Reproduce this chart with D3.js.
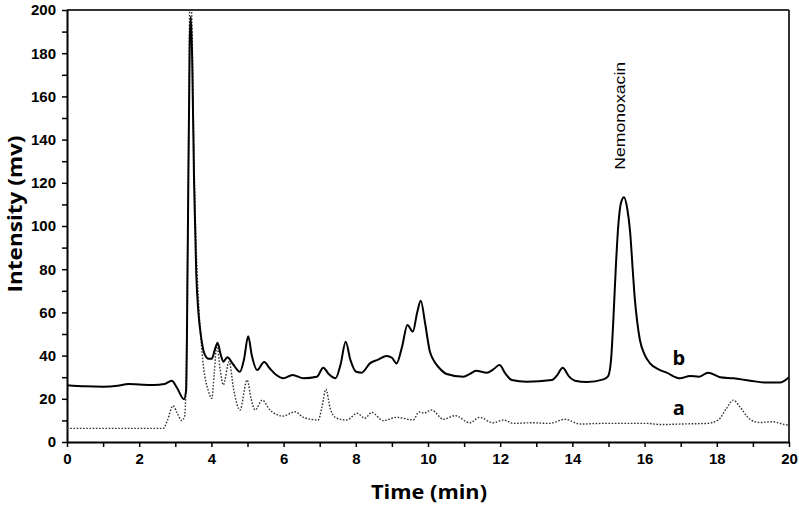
<!DOCTYPE html>
<html>
<head>
<meta charset="utf-8">
<script src="https://cdn.jsdelivr.net/npm/d3@7"></script>
<style>
  html, body { margin: 0; padding: 0; background: #fff; }
  svg { display: block; }
</style>
</head>
<body>
<svg id="chart" width="799" height="507"></svg>
<script>
// ---- Data ----
const bTime = [0,0.5,1.0,1.4,1.7,2.0,2.4,2.7,2.9,3.05,3.24,3.30,3.35,3.40,3.43,3.47,3.52,3.58,3.64,3.72,3.82,3.92,4.01,4.1,4.17,4.25,4.33,4.44,4.6,4.79,4.9,5.02,5.12,5.27,5.46,5.62,5.8,5.99,6.25,6.55,6.92,7.1,7.25,7.44,7.58,7.72,7.85,8.01,8.16,8.39,8.6,8.86,9.0,9.13,9.28,9.43,9.58,9.7,9.8,9.92,10.05,10.15,10.3,10.52,10.98,11.16,11.33,11.63,11.8,11.98,12.15,12.32,12.73,13.43,13.58,13.73,13.9,14.07,14.4,14.86,14.99,15.07,15.13,15.2,15.27,15.35,15.43,15.52,15.6,15.67,15.73,15.8,15.87,16.0,16.15,16.4,16.61,16.98,17.26,17.5,17.76,18.09,18.46,18.92,19.38,19.75,20.0];
const bIntensity = [26.3,25.8,25.6,26.0,26.8,26.6,26.4,26.8,28.4,25,19.8,24,100,185,197,175,120,78,60,48,40.3,38.5,38.5,43,46,41,37.2,39.2,36,32.5,38,49,40,33.3,37,34,31,29.5,31,29.5,30.2,34.4,31.5,29.5,36,46.4,38,32.5,32.1,36.4,38,39.8,39,36.4,44,54.2,51.1,60,65.4,55,42,38,34.5,31.5,30.2,31.5,33,32.1,33.5,35.6,31.5,28.7,27.9,28.7,31,34.4,30.5,28.4,27.8,29,30.5,38,55,80,100,111,113.3,108,97,80,66,55,47.2,40.5,36.4,33.5,32.1,29.5,30.6,30.2,32.1,30,29.5,28.4,27.5,27.5,30];

const aTime = [0,1,2,2.67,2.78,2.94,3.05,3.18,3.26,3.31,3.36,3.41,3.46,3.51,3.57,3.64,3.7,3.78,3.91,4.01,4.08,4.15,4.24,4.33,4.49,4.62,4.79,4.99,5.1,5.21,5.41,5.62,5.99,6.32,6.55,6.96,7.06,7.17,7.3,7.47,7.75,8.04,8.25,8.44,8.76,9.13,9.59,9.75,9.89,10.1,10.43,10.75,11.16,11.42,11.81,12.09,12.36,12.9,13.36,13.8,14.21,14.77,15.5,16.07,16.44,17.2,17.72,18.04,18.27,18.46,18.64,18.92,19.2,19.52,19.94,20];
const aIntensity = [6.3,6.3,6.3,6.3,10,16.8,13.5,9.9,12,40,120,215,195,140,95,66,50,35,24,20.2,32,45,34,26.4,37.2,24,14.8,28.7,20,14.8,19.4,14.8,12,14,11.4,10.2,16,24.4,15,11,10.2,13.3,11,13.7,9.9,11.4,10.2,13.9,13.4,14.8,10.5,12.2,8.9,11.4,8.9,10.2,8.6,8.9,8.6,10.5,8.3,8.6,8.6,8.6,8.1,8.4,8.6,10.2,15.6,19.4,16.3,10.5,9,9.4,7.9,7.8];

const xTicks = [0,2,4,6,8,10,12,14,16,18,20];
const yTicks = [0,20,40,60,80,100,120,140,160,180,200];
const xLabel = "Time (min)";
const yLabel = "Intensity (mv)";
const peakLabel = "Nemonoxacin";
const seriesLabels = ["b", "a"];

// ---- Layout ----
const W = 799, H = 507;
const m = {left: 67, top: 10, right: 10, bottom: 65};
const iw = W - m.left - m.right, ih = H - m.top - m.bottom;

const svg = d3.select("#chart");
const g = svg.append("g").attr("transform", `translate(${m.left},${m.top})`);

const x = d3.scaleLinear().domain([0, 20]).range([0, iw]);
const y = d3.scaleLinear().domain([0, 200]).range([ih, 0]);

svg.append("defs").append("clipPath").attr("id", "clip")
  .append("rect").attr("x", 0).attr("y", 0).attr("width", iw).attr("height", ih);

const tickFont = "'Liberation Sans', Arial, sans-serif";
const titleFont = "'Open Sans', 'Liberation Sans', sans-serif";

// minor ticks
const xMinor = d3.axisBottom(x).tickValues(d3.range(1, 20, 2)).tickSize(5).tickFormat("");
const yMinor = d3.axisLeft(y).tickValues(d3.range(10, 200, 20)).tickSize(5).tickFormat("");
g.append("g").attr("transform", `translate(0,${ih})`).call(xMinor)
  .call(s => s.select(".domain").remove())
  .call(s => s.selectAll("line").attr("stroke", "#000").attr("stroke-width", 1.5));
g.append("g").call(yMinor)
  .call(s => s.select(".domain").remove())
  .call(s => s.selectAll("line").attr("stroke", "#000").attr("stroke-width", 1.5));

// frame (top & right)
g.append("line").attr("x1", 0).attr("x2", iw).attr("y1", 0).attr("y2", 0)
  .attr("stroke", "#333").attr("stroke-width", 2);
g.append("line").attr("x1", iw).attr("x2", iw).attr("y1", 0).attr("y2", ih)
  .attr("stroke", "#333").attr("stroke-width", 2);

// major axes
const xAxis = d3.axisBottom(x).tickValues(xTicks).tickSize(5).tickSizeOuter(0).tickPadding(6);
const yAxis = d3.axisLeft(y).tickValues(yTicks).tickSize(5).tickSizeOuter(0).tickPadding(6);
g.append("g").attr("transform", `translate(0,${ih})`).call(xAxis)
  .call(s => s.select(".domain").attr("stroke", "#000").attr("stroke-width", 2))
  .call(s => s.selectAll("line").attr("stroke", "#000").attr("stroke-width", 1.5))
  .call(s => s.selectAll("text").attr("fill", "#000").attr("font-family", tickFont)
    .attr("font-size", 15).attr("font-weight", "bold"));
g.append("g").call(yAxis)
  .call(s => s.select(".domain").attr("stroke", "#000").attr("stroke-width", 2))
  .call(s => s.selectAll("line").attr("stroke", "#000").attr("stroke-width", 1.5))
  .call(s => s.selectAll("text").attr("fill", "#000").attr("font-family", tickFont)
    .attr("font-size", 15).attr("font-weight", "bold"));

// lines
const line = d3.line().x(d => x(d[0])).y(d => y(d[1])).curve(d3.curveMonotoneX);
const aData = aTime.map((t, i) => [t, aIntensity[i]]);
const bData = bTime.map((t, i) => [t, bIntensity[i]]);

const plot = g.append("g").attr("clip-path", "url(#clip)");
plot.append("path").datum(aData).attr("d", line)
  .attr("fill", "none").attr("stroke", "#333").attr("stroke-width", 1.4)
  .attr("stroke-dasharray", "1.6,1.6");
plot.append("path").datum(bData).attr("d", line)
  .attr("fill", "none").attr("stroke", "#000").attr("stroke-width", 2)
  .attr("stroke-linejoin", "round");

// series labels
g.append("text").attr("x", x(16.95)).attr("y", y(35.5))
  .attr("text-anchor", "middle").attr("font-family", titleFont)
  .attr("font-weight", "bold").attr("font-size", 20).text(seriesLabels[0]);
g.append("text").attr("x", x(16.95)).attr("y", y(12.5))
  .attr("text-anchor", "middle").attr("font-family", titleFont)
  .attr("font-weight", "bold").attr("font-size", 20).text(seriesLabels[1]);

// peak label
g.append("text")
  .attr("transform", `translate(${x(15.45)},${y(126)}) rotate(-90)`)
  .attr("font-family", "'Liberation Sans', Arial, sans-serif")
  .attr("font-size", 15)
  .attr("textLength", 108).attr("lengthAdjust", "spacingAndGlyphs")
  .text(peakLabel);

// axis titles
svg.append("text").attr("x", m.left + iw / 2 + 1).attr("y", 499)
  .attr("text-anchor", "middle").attr("font-family", titleFont)
  .attr("font-weight", "bold").attr("font-size", 20)
  .attr("textLength", 116).attr("lengthAdjust", "spacingAndGlyphs").text(xLabel);
svg.append("text").attr("transform", `translate(22,${m.top + ih / 2 - 12}) rotate(-90)`)
  .attr("text-anchor", "middle").attr("font-family", titleFont)
  .attr("font-weight", "bold").attr("font-size", 20)
  .attr("textLength", 157).attr("lengthAdjust", "spacingAndGlyphs").text(yLabel);
</script>
</body>
</html>
